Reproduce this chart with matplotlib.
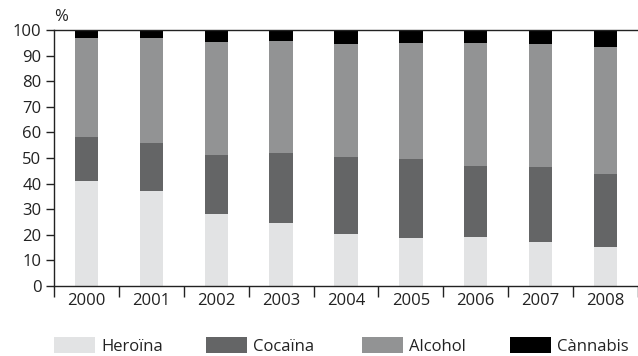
import matplotlib
matplotlib.use("Agg")
import matplotlib.pyplot as plt
import numpy as np
from matplotlib.patches import Patch

plt.rcParams['font.family'] = ['Open Sans', 'DejaVu Sans']

years = ['2000', '2001', '2002', '2003', '2004', '2005', '2006', '2007', '2008']
# share of treatment admissions by substance (%)
heroina = [41.0, 37.0, 28.0, 24.5, 20.2, 18.6, 19.0, 17.1, 15.1]
cocaina = [17.1, 18.8, 23.1, 27.4, 30.1, 30.9, 27.8, 29.3, 28.6]
alcohol = [38.8, 41.1, 44.2, 43.8, 44.2, 45.4, 48.1, 48.1, 49.7]
cannabis = [3.1, 3.1, 4.7, 4.3, 5.5, 5.1, 5.1, 5.5, 6.6]

series = [('Heroïna', heroina, '#e2e3e4'),
          ('Cocaïna', cocaina, '#646566'),
          ('Alcohol', alcohol, '#929394'),
          ('Cànnabis', cannabis, '#000000')]

FS = 12
TXT = '#222222'

fig = plt.figure(figsize=(6.38, 3.56), dpi=100)
ax = fig.add_axes([54 / 638, 70 / 356, 1 - 54 / 638, 256 / 356])

x = np.arange(len(years))
bottom = np.zeros(len(years))
for name, vals, col in series:
    ax.bar(x, vals, width=0.36, bottom=bottom, color=col, linewidth=0, label=name)
    bottom += np.array(vals)

ax.set_xlim(-0.5, len(years) - 0.5)
ax.set_ylim(0, 100)
ax.set_yticks(np.arange(0, 101, 10))
ax.set_xticks(np.arange(-0.5, len(years), 1.0))
ax.set_xticklabels([])
ax.set_xticks(x, minor=True)
ax.set_xticklabels(years, minor=True)
ax.tick_params(axis='x', which='major', direction='out', length=8, width=1, color=TXT)
ax.tick_params(axis='x', which='minor', length=0, pad=5, labelsize=FS, labelcolor=TXT)
ax.tick_params(axis='y', direction='out', length=6, width=1, color=TXT,
               labelsize=FS, labelcolor=TXT, pad=3)

for side in ('left', 'bottom', 'top'):
    ax.spines[side].set_color(TXT)
    ax.spines[side].set_linewidth(1)
ax.spines['right'].set_visible(False)

ax.text(0.0, 1.02, '%', transform=ax.transAxes, fontsize=FS, color=TXT,
        ha='left', va='bottom')

lx = [54 / 638, 206 / 638, 362 / 638, 510 / 638]
for (name, vals, col), xpos in zip(series, lx):
    fig.legend([Patch(facecolor=col, edgecolor='none')], [name],
               loc='center left', bbox_to_anchor=(xpos, 10 / 356),
               frameon=False, fontsize=12, handlelength=2.46, handleheight=1.08,
               handletextpad=0.36, borderpad=0, borderaxespad=0,
               labelcolor=TXT)

fig.savefig('out.png', dpi=100)
